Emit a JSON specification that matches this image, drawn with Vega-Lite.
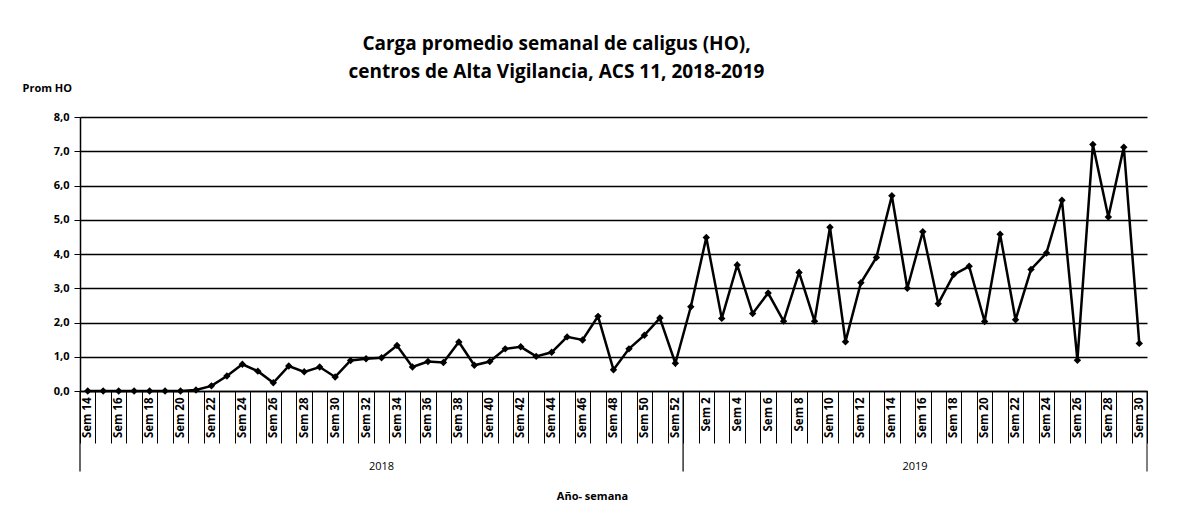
{
  "$schema": "https://vega.github.io/schema/vega-lite/v6.json",
  "width": 1067,
  "height": 274,
  "autosize": {"type": "none"},
  "padding": {"left": 80, "top": 117, "right": 34, "bottom": 134},
  "background": "white",
  "config": {"view": {"stroke": null}, "font": "Open Sans"},
  "title": {
    "text": ["Carga promedio semanal de caligus (HO),", "centros de Alta Vigilancia, ACS 11, 2018-2019"],
    "font": "Open Sans", "fontSize": 19, "fontWeight": "bold", "color": "black",
    "frame": "group", "anchor": "middle", "dx": -57, "offset": 0, "lineHeight": 28
  },
  "layer": [
    {
      "data": {"values": [
        {"key": "2018-14", "ho": 0.0}, {"key": "2018-15", "ho": 0.0}, {"key": "2018-16", "ho": 0.0},
        {"key": "2018-17", "ho": 0.0}, {"key": "2018-18", "ho": 0.0}, {"key": "2018-19", "ho": 0.0},
        {"key": "2018-20", "ho": 0.0}, {"key": "2018-21", "ho": 0.03}, {"key": "2018-22", "ho": 0.15},
        {"key": "2018-23", "ho": 0.44}, {"key": "2018-24", "ho": 0.78}, {"key": "2018-25", "ho": 0.58},
        {"key": "2018-26", "ho": 0.24}, {"key": "2018-27", "ho": 0.73}, {"key": "2018-28", "ho": 0.56},
        {"key": "2018-29", "ho": 0.70}, {"key": "2018-30", "ho": 0.41}, {"key": "2018-31", "ho": 0.89},
        {"key": "2018-32", "ho": 0.94}, {"key": "2018-33", "ho": 0.97}, {"key": "2018-34", "ho": 1.33},
        {"key": "2018-35", "ho": 0.70}, {"key": "2018-36", "ho": 0.86}, {"key": "2018-37", "ho": 0.83},
        {"key": "2018-38", "ho": 1.43}, {"key": "2018-39", "ho": 0.75}, {"key": "2018-40", "ho": 0.86},
        {"key": "2018-41", "ho": 1.23}, {"key": "2018-42", "ho": 1.29}, {"key": "2018-43", "ho": 1.01},
        {"key": "2018-44", "ho": 1.13}, {"key": "2018-45", "ho": 1.58}, {"key": "2018-46", "ho": 1.49},
        {"key": "2018-47", "ho": 2.18}, {"key": "2018-48", "ho": 0.62}, {"key": "2018-49", "ho": 1.23},
        {"key": "2018-50", "ho": 1.63}, {"key": "2018-51", "ho": 2.13}, {"key": "2018-52", "ho": 0.81},
        {"key": "2019-01", "ho": 2.46}, {"key": "2019-02", "ho": 4.48}, {"key": "2019-03", "ho": 2.12},
        {"key": "2019-04", "ho": 3.68}, {"key": "2019-05", "ho": 2.26}, {"key": "2019-06", "ho": 2.86},
        {"key": "2019-07", "ho": 2.04}, {"key": "2019-08", "ho": 3.46}, {"key": "2019-09", "ho": 2.04},
        {"key": "2019-10", "ho": 4.78}, {"key": "2019-11", "ho": 1.44}, {"key": "2019-12", "ho": 3.16},
        {"key": "2019-13", "ho": 3.90}, {"key": "2019-14", "ho": 5.70}, {"key": "2019-15", "ho": 3.00},
        {"key": "2019-16", "ho": 4.65}, {"key": "2019-17", "ho": 2.55}, {"key": "2019-18", "ho": 3.40},
        {"key": "2019-19", "ho": 3.64}, {"key": "2019-20", "ho": 2.03}, {"key": "2019-21", "ho": 4.58},
        {"key": "2019-22", "ho": 2.08}, {"key": "2019-23", "ho": 3.55}, {"key": "2019-24", "ho": 4.03},
        {"key": "2019-25", "ho": 5.57}, {"key": "2019-26", "ho": 0.90}, {"key": "2019-27", "ho": 7.20},
        {"key": "2019-28", "ho": 5.08}, {"key": "2019-29", "ho": 7.12}, {"key": "2019-30", "ho": 1.39}
      ]},
      "mark": {"type": "line", "color": "black", "strokeWidth": 2.5,
        "point": {"shape": "diamond", "size": 55, "filled": true, "color": "black"}},
      "encoding": {
        "x": {
          "field": "key", "type": "nominal",
          "scale": {"type": "band", "paddingInner": 0, "paddingOuter": 0},
          "axis": {
            "title": "Año- semana", "titleFontSize": 11, "titleFontWeight": "bold", "titleColor": "black",
            "titleX": 512, "titleY": 105, "titleAlign": "center", "titleBaseline": "middle",
            "labelAngle": 270, "labelAlign": "right", "labelBaseline": "middle",
            "labelExpr": "isValid(datum.value) && toNumber(split(datum.value, '-')[1]) % 2 == 0 ? 'Sem ' + toNumber(split(datum.value, '-')[1]) : ''",
            "labelFontSize": 11.5, "labelFontWeight": "bold", "labelColor": "black",
            "labelPadding": -46, "labelOverlap": false,
            "tickBand": "extent", "tickSize": 52, "tickColor": "black", "tickWidth": 1,
            "domainColor": "black", "domainWidth": 1.5, "grid": false
          }
        },
        "y": {
          "field": "ho", "type": "quantitative",
          "scale": {"domain": [0, 8]},
          "axis": {
            "title": "Prom HO", "titleAngle": 0, "titleAlign": "left", "titleBaseline": "middle",
            "titleX": -58, "titleY": -29, "titleFontSize": 11, "titleFontWeight": "bold", "titleColor": "black",
            "values": [0, 1, 2, 3, 4, 5, 6, 7, 8],
            "labelExpr": "replace(format(datum.value, '.1f'), '.', ',')",
            "labelFontSize": 11, "labelFontWeight": "bold", "labelColor": "black", "labelPadding": 5,
            "labelOverlap": false,
            "tickSize": 6, "tickColor": "black", "domainColor": "black", "domainWidth": 1.5,
            "grid": true, "gridColor": "black", "gridWidth": 1.5
          }
        }
      }
    },
    {
      "data": {"values": [{"key": "2018-14"}, {"key": "2019-01"}]},
      "mark": {"type": "rule", "color": "black", "strokeWidth": 1.2},
      "encoding": {
        "x": {"field": "key", "type": "nominal", "bandPosition": 0},
        "y": {"datum": 0, "type": "quantitative", "axis": {"values": [0, 1, 2, 3, 4, 5, 6, 7, 8], "title": "Prom HO"}},
        "y2": {"datum": -2.35}
      }
    },
    {
      "data": {"values": [{"key": "2019-30"}]},
      "mark": {"type": "rule", "color": "black", "strokeWidth": 1},
      "encoding": {
        "x": {"field": "key", "type": "nominal", "bandPosition": 1},
        "y": {"datum": 0, "type": "quantitative", "axis": {"values": [0, 1, 2, 3, 4, 5, 6, 7, 8], "title": "Prom HO"}},
        "y2": {"datum": -2.35}
      }
    },
    {
      "data": {"values": [{"key": "2018-33", "year": "2018"}]},
      "mark": {"type": "text", "fontSize": 11, "color": "black", "baseline": "middle", "align": "center"},
      "encoding": {
        "x": {"field": "key", "type": "nominal", "bandPosition": 0.5},
        "y": {"datum": -2.21, "type": "quantitative", "axis": {"values": [0, 1, 2, 3, 4, 5, 6, 7, 8], "title": "Prom HO"}},
        "text": {"field": "year"}
      }
    },
    {
      "data": {"values": [{"key": "2019-16", "year": "2019"}]},
      "mark": {"type": "text", "fontSize": 11, "color": "black", "baseline": "middle", "align": "center"},
      "encoding": {
        "x": {"field": "key", "type": "nominal", "bandPosition": 0},
        "y": {"datum": -2.21, "type": "quantitative", "axis": {"values": [0, 1, 2, 3, 4, 5, 6, 7, 8], "title": "Prom HO"}},
        "text": {"field": "year"}
      }
    }
  ]
}
